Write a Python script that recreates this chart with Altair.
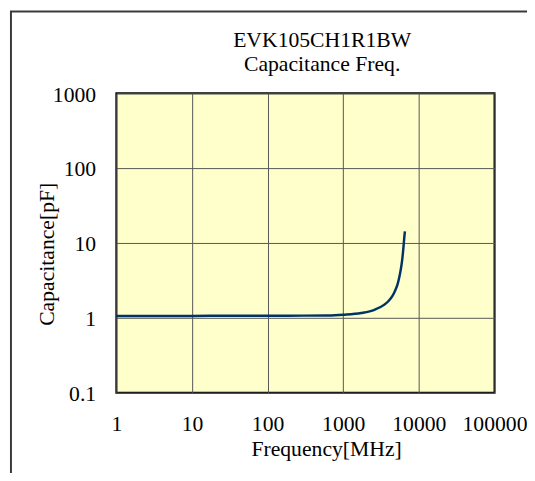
import altair as alt
import pandas as pd

# Values
freq_mhz = [1, 3, 10, 30, 100, 300, 630, 1000, 1725, 2590, 3500, 4000, 4500, 4850, 5235, 5500, 5785, 6000, 6220, 6400, 6530]
cap_pf = [1.06, 1.06, 1.06, 1.065, 1.065, 1.07, 1.075, 1.1, 1.16, 1.28, 1.5, 1.69, 1.98, 2.3, 2.82, 3.45, 4.5, 5.8, 8.2, 11.5, 14.3]

x_ticks = [1, 10, 100, 1000, 10000, 100000]
y_ticks = [0.1, 1, 10, 100, 1000]

title_lines = ["EVK105CH1R1BW", "Capacitance Freq."]
x_title = "Frequency[MHz]"
y_title = "Capacitance[pF]"

FONT = "Liberation Serif"
FS = 22
W, H = 384, 304

df = pd.DataFrame({"f": freq_mhz, "c": cap_pf})

line = alt.Chart(df).mark_line(
    color="#003366", strokeWidth=2.5, interpolate="monotone"
).encode(
    x=alt.X(
        "f:Q",
        scale=alt.Scale(type="log", domain=[1, 100000], nice=False),
        axis=alt.Axis(
            values=x_ticks,
            labelExpr="'' + datum.value",
            title=x_title,
            titleX=213,
            titleY=47,
            titleAlign="center",
            titleBaseline="top",
            labelPadding=21,
            labelFlush=False,
            labelOverlap=False,
        ),
    ),
    y=alt.Y(
        "c:Q",
        scale=alt.Scale(type="log", domain=[0.1, 1000], nice=False),
        axis=alt.Axis(
            values=y_ticks,
            labelExpr="'' + datum.value",
            title=y_title,
            titleAngle=-90,
            titleX=-64,
            titleY=163,
            titleAlign="center",
            titleBaseline="alphabetic",
            labelPadding=21,
            labelOffset=1,
            labelFlush=False,
            labelOverlap=False,
        ),
    ),
)

frame = alt.Chart(pd.DataFrame({"k": [0]})).mark_rect(
    fillOpacity=0, stroke="#3a3a3a", strokeWidth=2
).encode(
    x=alt.value(-107),
    x2=alt.value(W + 300),
    y=alt.value(-83),
    y2=alt.value(H + 300),
)


def title_line(text, ypos):
    return alt.Chart(pd.DataFrame({"t": [text]})).mark_text(
        font=FONT, fontSize=FS, fontWeight="normal", color="black",
        align="center", baseline="alphabetic",
    ).encode(text="t:N", x=alt.value(209), y=alt.value(ypos))


chart = alt.layer(
    frame, line, title_line(title_lines[0], -47), title_line(title_lines[1], -23)
).properties(
    width=W,
    height=H,
    autosize=alt.AutoSizeParams(type="none"),
    padding={"left": 110, "top": 83, "right": 33, "bottom": 78},
).configure_view(
    fill="#FFFFCC", stroke="black", strokeWidth=2
).configure_axis(
    grid=True,
    gridColor="#555555",
    gridWidth=1,
    ticks=False,
    domain=False,
    labelFont=FONT,
    labelFontSize=FS,
    labelFontWeight="normal",
    labelColor="black",
    titleFont=FONT,
    titleFontSize=FS,
    titleFontWeight="normal",
    titleColor="black",
)

chart.save("out.html", embed_options={"renderer": "svg", "actions": False})
